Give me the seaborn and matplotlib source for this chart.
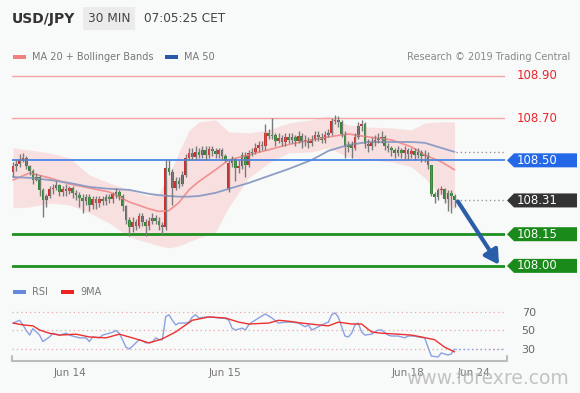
import matplotlib
matplotlib.use("Agg")
import numpy as np
import matplotlib.pyplot as plt
import seaborn as sns
from matplotlib.patches import Polygon, Rectangle
from matplotlib import transforms

# USD/JPY 30 min candles
opens = [108.445, 108.474, 108.483, 108.502, 108.512, 108.474, 108.450, 108.407, 108.421, 108.360,
         108.312, 108.331, 108.365, 108.369, 108.384, 108.350, 108.365, 108.355, 108.369, 108.346,
         108.336, 108.322, 108.308, 108.327, 108.289, 108.317, 108.298, 108.317, 108.308, 108.327,
         108.317, 108.341, 108.350, 108.331, 108.284, 108.218, 108.184, 108.208, 108.189, 108.237,
         108.208, 108.189, 108.213, 108.227, 108.213, 108.194, 108.184, 108.464, 108.445, 108.369,
         108.402, 108.388, 108.431, 108.512, 108.535, 108.516, 108.540, 108.526, 108.549, 108.526,
         108.554, 108.545, 108.530, 108.549, 108.521, 108.360, 108.488, 108.502, 108.464, 108.474,
         108.526, 108.478, 108.535, 108.540, 108.559, 108.573, 108.568, 108.630, 108.616, 108.621,
         108.592, 108.606, 108.587, 108.611, 108.597, 108.611, 108.592, 108.616, 108.587, 108.597,
         108.583, 108.602, 108.621, 108.611, 108.597, 108.621, 108.630, 108.687, 108.692, 108.682,
         108.625, 108.564, 108.573, 108.559, 108.611, 108.663, 108.673, 108.578, 108.568, 108.587,
         108.597, 108.606, 108.611, 108.568, 108.559, 108.549, 108.535, 108.549, 108.535, 108.549,
         108.530, 108.545, 108.526, 108.540, 108.521, 108.526, 108.478, 108.341, 108.327, 108.360,
         108.365, 108.317, 108.346, 108.331]
closes = [108.474, 108.483, 108.502, 108.512, 108.474, 108.450, 108.407, 108.421, 108.360, 108.312,
          108.331, 108.365, 108.369, 108.384, 108.350, 108.365, 108.355, 108.369, 108.346, 108.336,
          108.322, 108.308, 108.327, 108.289, 108.317, 108.298, 108.317, 108.308, 108.327, 108.317,
          108.341, 108.350, 108.331, 108.284, 108.218, 108.184, 108.208, 108.189, 108.237, 108.208,
          108.189, 108.213, 108.227, 108.213, 108.194, 108.184, 108.464, 108.445, 108.369, 108.402,
          108.388, 108.431, 108.512, 108.535, 108.516, 108.540, 108.526, 108.549, 108.526, 108.554,
          108.545, 108.530, 108.549, 108.521, 108.502, 108.488, 108.502, 108.464, 108.474, 108.526,
          108.478, 108.535, 108.540, 108.559, 108.573, 108.568, 108.630, 108.616, 108.621, 108.592,
          108.606, 108.587, 108.611, 108.597, 108.611, 108.592, 108.616, 108.587, 108.597, 108.583,
          108.602, 108.621, 108.611, 108.597, 108.621, 108.630, 108.687, 108.692, 108.682, 108.625,
          108.564, 108.573, 108.559, 108.611, 108.663, 108.673, 108.578, 108.568, 108.587, 108.597,
          108.606, 108.611, 108.568, 108.559, 108.549, 108.535, 108.549, 108.535, 108.549, 108.530,
          108.545, 108.526, 108.540, 108.521, 108.526, 108.478, 108.341, 108.327, 108.360, 108.365,
          108.317, 108.346, 108.331, 108.312]
highs = [108.49, 108.50, 108.53, 108.535, 108.52, 108.48, 108.46, 108.44, 108.43, 108.37,
         108.34, 108.38, 108.39, 108.40, 108.39, 108.38, 108.39, 108.38, 108.38, 108.36,
         108.35, 108.34, 108.34, 108.34, 108.33, 108.33, 108.33, 108.33, 108.34, 108.34,
         108.35, 108.37, 108.36, 108.34, 108.29, 108.23, 108.23, 108.22, 108.25, 108.25,
         108.22, 108.23, 108.25, 108.24, 108.23, 108.21, 108.50, 108.50, 108.46, 108.42,
         108.42, 108.45, 108.53, 108.56, 108.56, 108.57, 108.56, 108.57, 108.57, 108.57,
         108.57, 108.56, 108.56, 108.56, 108.53, 108.50, 108.52, 108.51, 108.50, 108.54,
         108.54, 108.55, 108.56, 108.58, 108.59, 108.59, 108.67, 108.65, 108.70, 108.63,
         108.63, 108.62, 108.63, 108.63, 108.63, 108.62, 108.64, 108.63, 108.62, 108.61,
         108.62, 108.64, 108.64, 108.63, 108.64, 108.65, 108.70, 108.715, 108.71, 108.69,
         108.64, 108.59, 108.59, 108.63, 108.68, 108.69, 108.68, 108.60, 108.61, 108.62,
         108.63, 108.64, 108.62, 108.58, 108.57, 108.56, 108.57, 108.56, 108.57, 108.56,
         108.56, 108.56, 108.56, 108.55, 108.55, 108.54, 108.48, 108.35, 108.37, 108.38,
         108.37, 108.36, 108.36, 108.34]
lows = [108.42, 108.45, 108.47, 108.49, 108.46, 108.43, 108.39, 108.40, 108.33, 108.23,
        108.28, 108.32, 108.34, 108.36, 108.33, 108.33, 108.33, 108.34, 108.32, 108.31,
        108.28, 108.25, 108.29, 108.26, 108.27, 108.27, 108.28, 108.29, 108.29, 108.30,
        108.30, 108.32, 108.31, 108.26, 108.20, 108.14, 108.16, 108.17, 108.18, 108.19,
        108.14, 108.17, 108.20, 108.20, 108.17, 108.15, 108.17, 108.43, 108.29, 108.36,
        108.37, 108.38, 108.42, 108.50, 108.50, 108.50, 108.51, 108.51, 108.50, 108.51,
        108.52, 108.51, 108.51, 108.50, 108.49, 108.35, 108.47, 108.40, 108.44, 108.46,
        108.42, 108.47, 108.52, 108.53, 108.54, 108.55, 108.55, 108.60, 108.60, 108.57,
        108.58, 108.57, 108.57, 108.58, 108.58, 108.57, 108.58, 108.56, 108.57, 108.56,
        108.57, 108.59, 108.59, 108.58, 108.58, 108.61, 108.62, 108.67, 108.66, 108.61,
        108.51, 108.54, 108.51, 108.55, 108.60, 108.64, 108.56, 108.54, 108.55, 108.57,
        108.58, 108.58, 108.55, 108.54, 108.52, 108.51, 108.52, 108.51, 108.50, 108.50,
        108.51, 108.50, 108.51, 108.49, 108.49, 108.46, 108.33, 108.30, 108.31, 108.34,
        108.30, 108.26, 108.25, 108.28]

# indicator samples (candle index -> value)
band_idx = [0, 5, 11, 17, 23, 29, 35, 41, 44, 47, 50, 53, 56, 61, 65, 71, 77, 83, 90, 95, 101, 107,
            114, 120, 124, 129, 133]
bb_upper = [108.559, 108.549, 108.535, 108.512, 108.431, 108.393, 108.360, 108.330, 108.345, 108.430,
            108.540, 108.640, 108.682, 108.692, 108.635, 108.630, 108.644, 108.677, 108.692, 108.710,
            108.668, 108.658, 108.654, 108.644, 108.677, 108.682, 108.682]
bb_lower = [108.275, 108.279, 108.298, 108.289, 108.251, 108.203, 108.137, 108.109, 108.095, 108.085,
            108.095, 108.115, 108.132, 108.161, 108.279, 108.417, 108.488, 108.535, 108.540, 108.559,
            108.516, 108.502, 108.493, 108.469, 108.417, 108.327, 108.265]
ma20 = [108.407, 108.440, 108.417, 108.388, 108.369, 108.350, 108.303, 108.270, 108.258, 108.262,
        108.300, 108.360, 108.400, 108.455, 108.502, 108.526, 108.550, 108.575, 108.597, 108.611,
        108.625, 108.611, 108.597, 108.564, 108.526, 108.493, 108.455]
ma50 = [108.421, 108.417, 108.407, 108.393, 108.374, 108.365, 108.360, 108.341, 108.335, 108.331,
        108.328, 108.328, 108.331, 108.346, 108.365, 108.393, 108.426, 108.459, 108.502, 108.545,
        108.573, 108.587, 108.587, 108.587, 108.583, 108.559, 108.540]

rsi_idx = [0, 2, 3, 4, 5, 6, 8, 9, 11, 12, 14, 16, 17, 19, 20, 22, 23, 24, 26, 27, 29, 30, 31, 32, 33,
           34, 35, 36, 38, 39, 40, 42, 43, 44, 45, 46, 47, 48, 49, 50, 52, 53, 54, 55, 56, 58, 60, 62,
           64, 65, 66, 67, 69, 70, 71, 72, 74, 76, 78, 80, 82, 84, 86, 88, 89, 90, 92, 93, 95, 96, 97,
           98, 99, 100, 101, 102, 103, 104, 105, 106, 108, 110, 111, 113, 114, 116, 118, 119, 121, 122,
           124, 125, 126, 128, 129, 131, 132, 133]
rsi = [58, 61, 56, 50, 45, 52, 45, 38, 43, 47, 45, 47, 45, 43, 42, 42, 38, 43, 42, 45, 47, 48, 50, 47, 40,
       32, 30, 33, 40, 39, 36.5, 37.5, 42, 40, 40, 65, 67, 61, 56, 58, 58, 59, 64.5, 67, 63.5, 64.5, 64.5,
       63.5, 63, 61, 52.5, 50.5, 52.5, 50.5, 56, 59, 63.5, 67.8, 63.5, 58, 59, 59, 58, 54, 56, 50.5, 54,
       56, 59, 67, 69, 64.5, 54, 44, 43, 47, 56, 58, 48.4, 45, 46, 50.5, 50.5, 45, 44, 44, 42, 44, 44, 43,
       42, 32, 22.4, 21.3, 25.7, 23.5, 24.6, 30]
rsi_ma_idx = [0, 3, 6, 8, 11, 14, 19, 23, 28, 32, 36, 41, 45, 49, 54, 59, 64, 68, 71, 77, 80, 83, 87, 92,
              95, 98, 102, 105, 108, 111, 116, 120, 123, 127, 130, 133]
rsi_ma = [58, 56, 55, 50.5, 47, 45, 46, 43, 42, 46, 42, 36.5, 41, 48.4, 61, 64.6, 63.5, 59, 57, 58, 61, 60,
          58, 56, 55, 59, 57, 57, 48.4, 47, 46, 45, 43, 40, 32, 26.8]

red_levels = [108.90, 108.70]
pivot = 108.50
supports = [108.15, 108.00]
last_price = 108.31
rsi_levels = [30, 50, 70]
day_ticks = [17.2, 63.9, 119.0, 138.9]
day_labels = ["Jun 14", "Jun 15", "Jun 18", "Jun 24"]

W, H = 580, 393
def fx(px):
    return px / W
def fy(py):
    return 1 - py / H

sns.set_theme(style="white")
plt.rcParams['font.family'] = ['DejaVu Sans']

fig = plt.figure(figsize=(5.8, 3.93), dpi=100, facecolor="#f8f9f9")
XMAX = 148.2

# ---- price panel
ax = fig.add_axes([fx(12), fy(276), (505 - 12) / W, 210 / H])
ax.set_xlim(-0.3, XMAX)
ax.set_ylim(107.952, 108.947)
ax.axis("off")

ax.fill_between(band_idx, bb_lower, bb_upper, color="#fbc8c8", alpha=0.5, lw=0)
sns.lineplot(x=band_idx, y=ma20, ax=ax, color="#f29090", lw=1.2, legend=False)
sns.lineplot(x=band_idx, y=ma50, ax=ax, color="#8d9dc4", lw=1.3, legend=False)

for lv in red_levels:
    ax.axhline(lv, color="#f5a3a3", lw=1)
ax.axhline(pivot, color="#4a86e8", lw=1.3)
for lv in supports:
    ax.axhline(lv, color="#1f8f1f", lw=2)

o = np.array(opens); c = np.array(closes)
x = np.arange(len(c))
ax.vlines(x, lows, highs, color="#7a7a7a", lw=1)
up = c >= o
body_lo = np.minimum(o, c)
body_h = np.maximum(np.abs(c - o), 0.004)
ax.bar(x, body_h, bottom=body_lo, width=0.8,
       color=np.where(up, "#d42a2a", "#2f8a2f"), lw=0)

dot = (0, (1, 2))
ax.hlines(last_price, len(c) - 0.5, XMAX, color="#999999", lw=1, linestyles=dot)
ax.hlines(ma50[-1], band_idx[-1] + 0.5, XMAX, color="#999999", lw=1, linestyles=dot)

ax.annotate("", xy=(146.4, 108.005), xytext=(134.0, 108.305),
            arrowprops=dict(arrowstyle="-|>,head_length=0.7,head_width=0.4",
                            color="#2b5ea8", lw=3, shrinkA=0, shrinkB=0))

trans = transforms.blended_transform_factory(fig.transFigure, ax.transData)
hh = 7 * 0.004739
for lv in red_levels:
    ax.text(fx(517), lv, f"{lv:.2f}", transform=trans, color="#e8262a",
            fontsize=8.5, va="center", ha="left", clip_on=False)
tags = [(pivot, "#2468e8"), (last_price, "#333333"), (supports[0], "#1a8a1a"), (supports[1], "#1a8a1a")]
for lv, col in tags:
    poly = Polygon([(fx(507), lv), (fx(514), lv + hh), (fx(577), lv + hh),
                    (fx(577), lv - hh), (fx(514), lv - hh)], closed=True,
                   transform=trans, color=col, clip_on=False, lw=0)
    ax.add_patch(poly)
    ax.text(fx(517), lv, f"{lv:.2f}", transform=trans, color="white",
            fontsize=8.5, va="center", ha="left", clip_on=False)

# ---- RSI panel
ax2 = fig.add_axes([fx(12), fy(361), (505 - 12) / W, 63 / H])
ax2.set_xlim(-0.3, XMAX)
ax2.set_ylim(17, 85.1)
ax2.set_facecolor("none")
for s in ["top", "left", "right"]:
    ax2.spines[s].set_visible(False)
ax2.spines["bottom"].set_color("#bbbbbb")
ax2.spines["bottom"].set_linewidth(1.5)
for xa in (0, 1.005):
    ax2.plot([xa, xa], [0, 0.08], transform=ax2.transAxes, color="#bbbbbb", lw=1.5, clip_on=False)

for lv in rsi_levels:
    ax2.axhline(lv, color="#e8a8a8", lw=0.9, ls=(0, (1, 2.5)))
sns.lineplot(x=rsi_idx, y=rsi, ax=ax2, color="#8aa2e2", lw=1, legend=False)
sns.lineplot(x=rsi_ma_idx, y=rsi_ma, ax=ax2, color="#ee3030", lw=1, legend=False)
ax2.hlines(rsi[-1], rsi_idx[-1], XMAX, color="#8aa2e2", lw=1, linestyles=dot)

ax2.set_xticks(day_ticks)
ax2.set_xticklabels(day_labels)
ax2.yaxis.tick_right()
ax2.set_yticks(rsi_levels)
ax2.set_yticklabels([str(v) for v in rsi_levels])
ax2.tick_params(axis="x", length=0, pad=5, labelsize=7.5, labelcolor="#777777")
ax2.tick_params(axis="y", length=0, pad=12, labelsize=8, labelcolor="#666666")
ax2.set_xlabel(""); ax2.set_ylabel("")

# ---- header and legends
fig.patches.append(Rectangle((fx(83), fy(30)), fx(135) - fx(83), (30 - 7) / H,
                             transform=fig.transFigure, color="#ebebeb", lw=0))
fig.text(fx(12), fy(19), "USD/JPY", fontsize=10, fontweight="bold", color="#333333", va="center")
fig.text(fx(88), fy(19), "30 MIN", fontsize=8.7, color="#444444", va="center")
fig.text(fx(144), fy(19), "07:05:25 CET", fontsize=8.7, color="#444444", va="center")

def legend_item(px, py, col, label, tx):
    fig.patches.append(Rectangle((fx(px), fy(py + 2)), 13 / W, 4 / H,
                                 transform=fig.transFigure, color=col, lw=0))
    fig.text(fx(tx), fy(py), label, fontsize=7, color="#777777", va="center")

legend_item(13, 57, "#f08080", "MA 20 + Bollinger Bands", 32)
legend_item(165, 57, "#2858a8", "MA 50", 184)
fig.text(fx(570), fy(57), "Research \u00a9 2019 Trading Central", fontsize=7,
         color="#888888", va="center", ha="right")
legend_item(13, 292, "#6688dd", "RSI", 32)
legend_item(61, 292, "#ee2222", "9MA", 80)

# watermark sits over the last date labels, as in the source image
fig.text(fx(488), fy(378), "www.forexre.com", fontsize=13.5, color="#b5b5b5",
         alpha=0.8, ha="center", va="center")

fig.savefig("out.png", dpi=100, facecolor=fig.get_facecolor())
